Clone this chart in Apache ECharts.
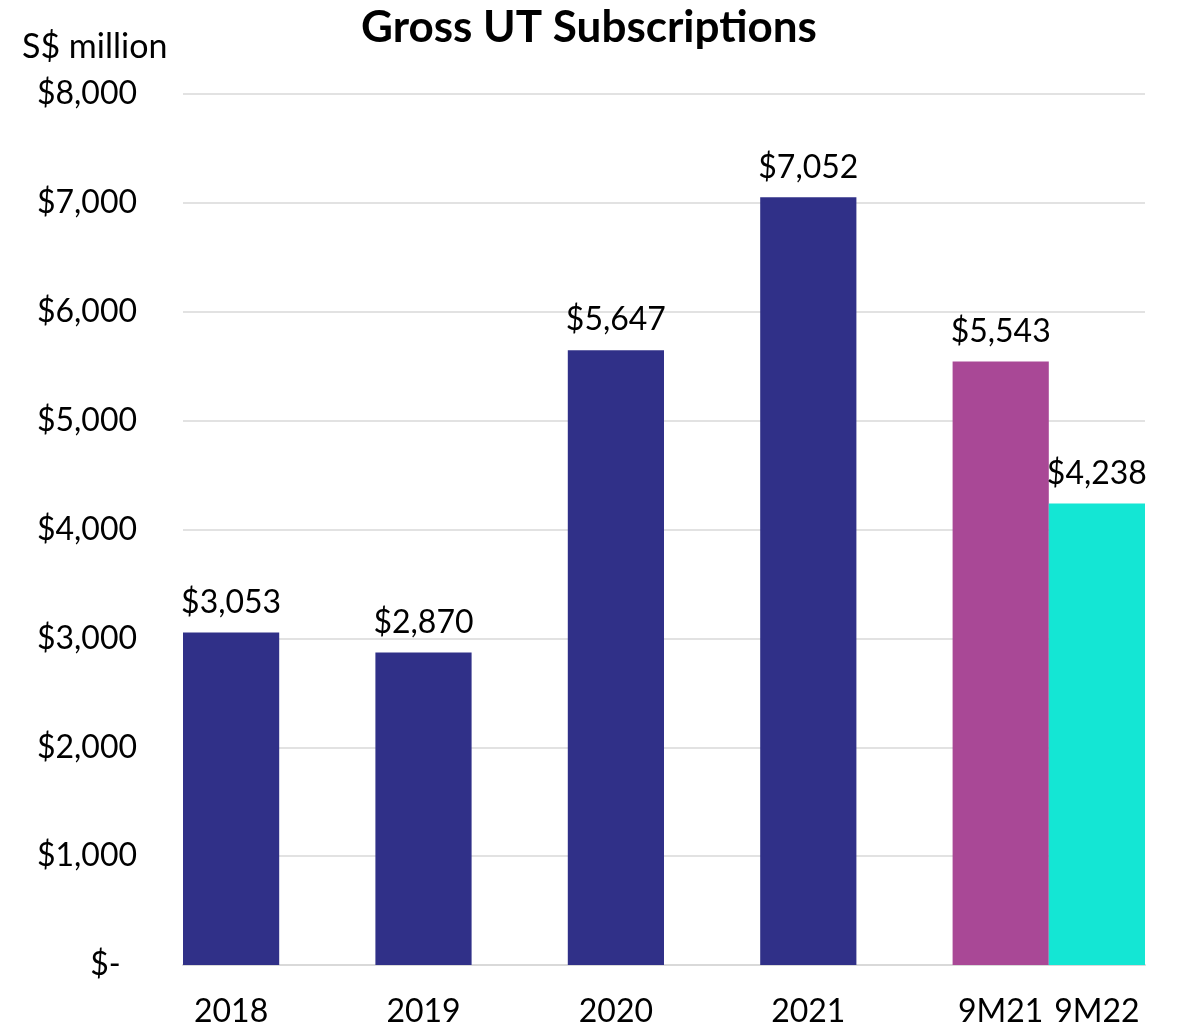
<!DOCTYPE html>
<html>
<head>
<meta charset="utf-8">
<script src="https://cdn.jsdelivr.net/npm/echarts@6/dist/echarts.min.js"></script>
<style>
  html, body { margin: 0; padding: 0; background: #fff; }
  #chart { width: 1178px; height: 1028px; }
</style>
</head>
<body>
<div id="chart"></div>
<script>
// chart data
const categories = ['2018', '2019', '2020', '2021', '9M21', '9M22'];
const values = [3053, 2870, 5647, 7052, 5543, 4238];
const barColors = ['#303088', '#303088', '#303088', '#303088', '#A94896', '#14E6D4'];
const yTicks = [0, 1000, 2000, 3000, 4000, 5000, 6000, 7000, 8000];

const FONT = 'Lato';

// each yearly bar is followed by an empty slot, the last two sit side by side
const slots = [];
const slotData = [];
categories.forEach((c, i) => {
    slots.push(c);
    slotData.push({ value: values[i], itemStyle: { color: barColors[i] } });
    if (i < 4) {
        slots.push('');
        slotData.push(null);
    }
});

const fmt = v => v === 0 ? '$-  ' : '$' + v.toLocaleString('en-US');

const myChart = echarts.init(document.getElementById('chart'));
myChart.setOption({
    animation: false,
    title: {
        text: 'Gross UT Subscriptions',
        left: 'center',
        top: 1,
        textStyle: { fontFamily: FONT, fontWeight: 'bold', fontSize: 44, color: '#000' }
    },
    grid: { left: 183, right: 33, top: 94, bottom: 63 },
    xAxis: {
        type: 'category',
        data: slots,
        axisLine: { lineStyle: { color: '#d9d9d9', width: 2 } },
        axisTick: { show: false },
        axisLabel: { interval: 0, margin: 31, fontFamily: FONT, fontSize: 32, color: '#000' }
    },
    yAxis: {
        type: 'value',
        name: 'S$ million',
        nameLocation: 'end',
        nameGap: 30,
        nameTextStyle: { fontFamily: FONT, fontSize: 34, color: '#000', align: 'left', padding: [0, 0, 0, -161] },
        min: yTicks[0],
        max: yTicks[yTicks.length - 1],
        interval: 1000,
        axisLine: { show: false },
        axisTick: { show: false },
        splitLine: { lineStyle: { color: '#d9d9d9', width: 1.5 } },
        axisLabel: { margin: 46, fontFamily: FONT, fontSize: 32, color: '#000', formatter: fmt }
    },
    series: [{
        type: 'bar',
        data: slotData,
        barCategoryGap: 0,
        label: {
            show: true,
            position: 'top',
            distance: 14,
            fontFamily: FONT,
            fontSize: 32,
            color: '#000',
            formatter: p => fmt(p.value)
        }
    }]
});
</script>
</body>
</html>
